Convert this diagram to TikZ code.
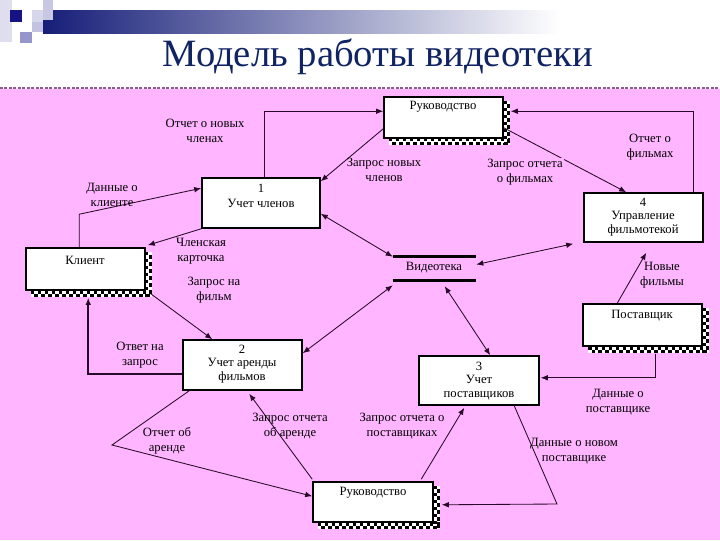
\documentclass[tikz,border=0pt]{standalone}
\usepackage{fontspec}
\setmainfont{Liberation Serif}
\usetikzlibrary{arrows.meta,calc,fit}
\definecolor{bgpink}{RGB}{255,181,255}
\definecolor{navy}{RGB}{22,30,120}
\definecolor{titlec}{RGB}{16,36,100}
\definecolor{lc}{RGB}{40,10,40}
\definecolor{dashc}{RGB}{140,90,140}
\definecolor{sqa}{RGB}{222,222,238}
\definecolor{sqb}{RGB}{200,200,228}
\definecolor{sqc}{RGB}{215,215,235}
\definecolor{sqd}{RGB}{195,195,225}
\definecolor{sqe}{RGB}{20,20,130}
\definecolor{sqf}{RGB}{150,150,205}
\definecolor{midc}{RGB}{150,150,188}
\newcommand\chkshadow[4]{%
 \fill[white] (#3,#2+4) rectangle (#3+7,#4+7);
 \fill[white] (#1+5,#4) rectangle (#3+7,#4+7);
 \draw[chk] (#3+1.75,#2+4) -- (#3+1.75,#4+7);
 \draw[chk, dash phase=2.48pt] (#3+5.25,#2+4) -- (#3+5.25,#4+7);
 \draw[chk] (#1+5,#4+1.75) -- (#3+7,#4+1.75);
 \draw[chk, dash phase=2.48pt] (#1+5,#4+5.25) -- (#3+7,#4+5.25);
}
\tikzset{
 box/.style={draw=black, line width=1.1pt, fill=white, inner sep=0pt},
 txt/.style={font=\fontsize{9}{10.6}\selectfont, align=center, inner sep=1pt, text=black},
 chk/.style={draw=black, line width=2.48pt, dash pattern=on 2.48pt off 2.48pt},
 arr/.style={draw=lc, line width=0.6pt, -{Latex[length=5pt,width=4pt]}},
 darr/.style={draw=lc, line width=0.6pt, {Latex[length=5pt,width=4pt]}-{Latex[length=5pt,width=4pt]}},
}
\begin{document}
\begin{tikzpicture}[x=0.025cm, y=-0.025cm]
\useasboundingbox (0,0) rectangle (720,540);
\fill[white] (0,0) rectangle (720,540);
\fill[bgpink] (0,89) rectangle (720,540);
\draw[dashc, line width=0.8pt, dash pattern=on 2pt off 1.2pt] (0,88) -- (720,88);
% header decoration
\fill[sqa] (0,0) rectangle (12,42);
\shade[left color=navy, middle color=midc, right color=white] (43,10) rectangle (560,33);
\fill[sqb] (43,0) rectangle (53,20);
\fill[sqc] (32,10) rectangle (43,22);
\fill[sqd] (32,22) rectangle (43,32);
\fill[sqe] (10,10) rectangle (22,22);
\fill[sqf] (20,32) rectangle (32,43);
\node[font=\fontsize{27.5}{30}\selectfont, text=titlec, inner sep=0pt] (title) at (378,57) {Модель работы видеотеки};
% shadows
\chkshadow{384}{97}{503}{138}
\chkshadow{26}{248}{145}{290}
\chkshadow{583}{304}{702}{346}
\chkshadow{313}{482}{433}{522}
% boxes
\node[box, fit={(384,97) (503,138)}] (ruk1) {};
\node[txt] (ruk1t) at (443,107) {Руководство};
\node[box, fit={(202,178) (320,228)}] (p1) {};
\node[txt] (p1t) at (261,196) {1\\Учет членов};
\node[box, fit={(584,193) (703,242)}] (p4) {};
\node[txt, font=\fontsize{9}{9.6}\selectfont] (p4t) at (643,217) {4\\Управление\\фильмотекой};
\node[box, fit={(26,248) (145,290)}] (kl) {};
\node[txt] (klt) at (85,260) {Клиент};
\node[inner sep=0pt, fit={(393,257) (476,280)}] (vid) {};
\draw[black, line width=2.2pt] (vid.north west) -- (vid.north east);
\draw[black, line width=2.2pt] (vid.south west) -- (vid.south east);
\node[txt] (vidt) at (434,268) {Видеотека};
\node[box, fit={(583,304) (702,346)}] (post) {};
\node[txt] (postt) at (642,316) {Поставщик};
\node[box, fit={(183,340) (302,390)}] (p2) {};
\node[txt, font=\fontsize{9}{9.6}\selectfont] (p2t) at (242,364) {2\\Учет аренды\\фильмов};
\node[box, fit={(419,356) (539,405)}] (p3) {};
\node[txt, font=\fontsize{9}{9.8}\selectfont] (p3t) at (479,381) {3\\Учет\\поставщиков};
\node[box, fit={(313,482) (433,522)}] (ruk2) {};
\node[txt] (ruk2t) at (373,493) {Руководство};
% connectors
\draw[arr] ($(p1.north west)+(63,0)$) |- ($(ruk1.north west)+(0,15)$);
\draw[arr] ($(ruk1.south west)+(0,-10)$) -- ($(p1.north east)+(0,4)$);
\draw[arr] ($(ruk1.south east)+(0,-11)$) -- ($(p4.north west)+(43,0)$);
\draw[arr] ($(p4.north east)+(-10,0)$) |- ($(ruk1.north east)+(7,15)$);
\draw[arr] ($(kl.north west)+(54,0)$) -- ++(0,-33) -- ($(p1.north west)+(0,11)$);
\draw[arr] (p1.south west) -- ($(kl.north east)+(2,-2)$);
\draw[arr] ($(kl.south east)+(5,3)$) -- ($(p2.north west)+(30,0)$);
\draw[arr, line width=1.3pt] ($(p2.south west)+(0,-17)$) -| ($(kl.south west)+(63,7)$);
\draw[darr] ($(p2.north east)+(0,14)$) -- ($(vid.south west)+(0,5)$);
\draw[darr] ($(p1.south east)+(0,-15)$) -- (vid.north west);
\draw[darr] ($(vid.east)+(0,-4)$) -- ($(p4.south west)+(-10,1)$);
\draw[darr] ($(vid.south west)+(52,6)$) -- ($(p3.north west)+(72,0)$);
\draw[arr] ($(post.north west)+(35,0)$) -- ($(p4.south west)+(63,10)$);
\draw[arr] ($(post.south east)+(-47,7)$) |- ($(p3.south east)+(1,-28)$);
\draw[arr] ($(ruk2.north west)+(109,-2)$) -- ($(p3.south west)+(46,2)$);
\draw[arr] ($(p3.south west)+(96,0)$) -- (557,504) -- ($(ruk2.south east)+(8,-18)$);
\draw[arr] ($(p2.south west)+(7,0)$) -- (112,445) -- ($(ruk2.north west)+(0,15)$);
\draw[arr] ($(ruk2.north west)+(0,-2)$) -- ($(p2.south west)+(67,3)$);
% labels
\node[txt] (l1) at (205,131) {Отчет о новых\\членах};
\node[txt] (l2) at (384,170) {Запрос новых\\членов};
\node[txt, fill=bgpink] (l3) at (525,172) {Запрос отчета\\о фильмах};
\node[txt] (l4) at (650,147) {Отчет о\\фильмах};
\node[txt] (l5) at (112,195) {Данные о\\клиенте};
\node[txt] (l6) at (201,251) {Членская\\карточка};
\node[txt] (l7) at (214,290) {Запрос на\\фильм};
\node[txt] (l8) at (140,355) {Ответ на\\запрос};
\node[txt] (l9) at (662,275) {Новые\\фильмы};
\node[txt] (l10) at (618,402) {Данные о\\поставщике};
\node[txt] (l11) at (402,426) {Запрос отчета о\\поставщиках};
\node[txt] (l12) at (574,451) {Данные о новом\\поставщике};
\node[txt] (l13) at (167,441) {Отчет об\\аренде};
\node[txt] (l14) at (290,426) {Запрос отчета\\об аренде};
\end{tikzpicture}
\end{document}
